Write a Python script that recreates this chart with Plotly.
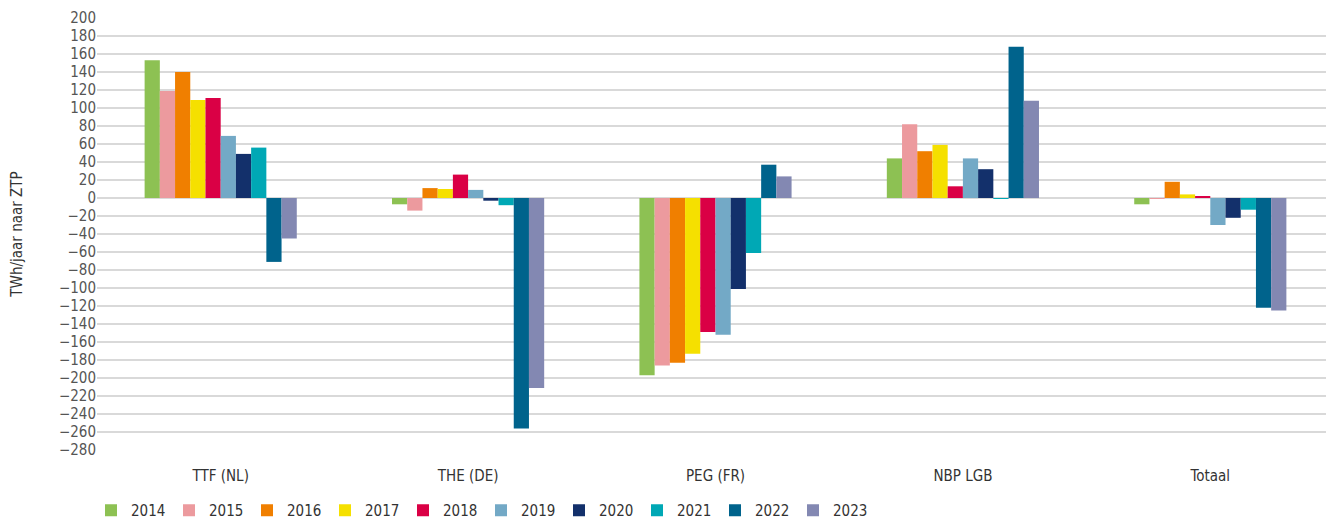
import plotly.graph_objects as go

categories = ["TTF (NL)", "THE (DE)", "PEG (FR)", "NBP LGB", "Totaal"]
years = ["2014", "2015", "2016", "2017", "2018", "2019", "2020", "2021", "2022", "2023"]
values = {
    "2014": [153, -7, -197, 44, -7],
    "2015": [119, -14, -186, 82, -1],
    "2016": [140, 11, -183, 52, 18],
    "2017": [109, 10, -173, 59, 4],
    "2018": [111, 26, -149, 13, 2],
    "2019": [69, 9, -152, 44, -30],
    "2020": [49, -3, -101, 32, -22],
    "2021": [56, -8, -61, -1, -13],
    "2022": [-71, -256, 37, 168, -122],
    "2023": [-45, -211, 24, 108, -125],
}
colors = ["#8DC153", "#EC9A9E", "#F07F00", "#F5E000", "#DA0045",
          "#73A9C6", "#13306B", "#00A8B5", "#00638C", "#8388B2"]
tick_vals = list(range(-280, 201, 20))

font_family = "DejaVu Sans Condensed, Roboto, Arial"

fig = go.Figure()
for y, c in zip(years, colors):
    fig.add_trace(go.Bar(name=y, x=categories, y=values[y], marker_color=c,
                         marker_line_width=0))

fig.update_layout(
    width=1326, height=519,
    barmode="group", bargap=0.385, bargroupgap=0,
    plot_bgcolor="white", paper_bgcolor="white",
    margin=dict(l=89, r=0, t=10, b=77),
    font=dict(family=font_family, size=14, color="#444"),
    showlegend=True,
    legend=dict(orientation="h", x=0.0626, xanchor="left", xref="container",
                y=-0.014, yanchor="bottom", yref="container",
                font=dict(size=15, color="#333"), itemwidth=30,
                entrywidth=33, entrywidthmode="pixels",
                tracegroupgap=0, itemsizing="constant"),
    xaxis=dict(showgrid=False, showline=False, ticks="", automargin=False,
               ticklabelstandoff=15,
               tickfont=dict(size=15, color="#333")),
    yaxis=dict(range=[-280, 200], tickvals=tick_vals, automargin=False,
               gridcolor="#d9d9d9", gridwidth=1.5, zeroline=True,
               zerolinecolor="#d9d9d9", zerolinewidth=1.5,
               tickfont=dict(size=15, color="#555"),
               title=dict(text="TWh/jaar naar ZTP", font=dict(size=15, color="#333"),
                          standoff=42)),
)
fig.write_html("out.html")
